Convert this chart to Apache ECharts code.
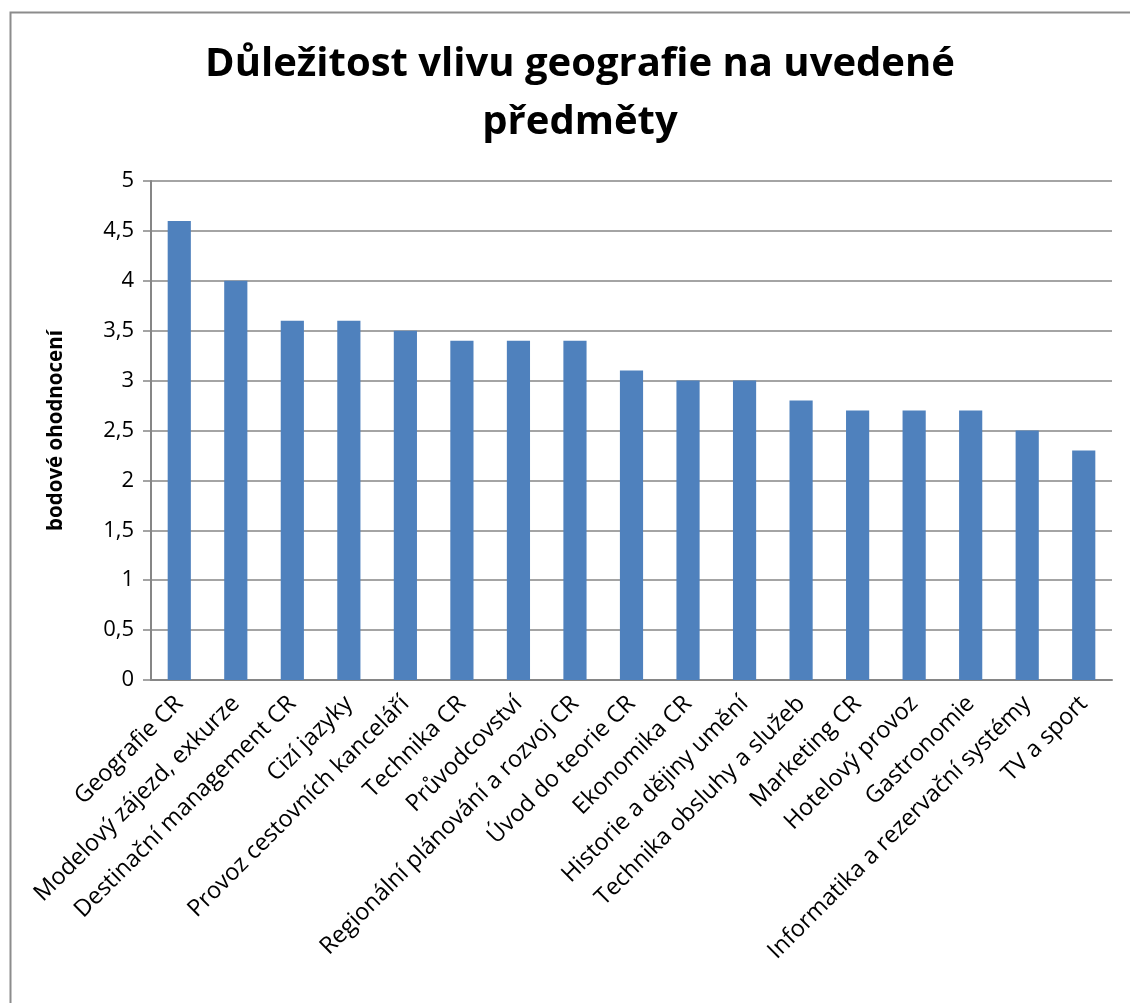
<!DOCTYPE html>
<html>
<head>
<meta charset="utf-8">
<script src="https://cdn.jsdelivr.net/npm/echarts@6/dist/echarts.min.js"></script>
<style>
    html, body { margin: 0; padding: 0; background: #fff; }
    #chart { width: 1130px; height: 1003px; }
</style>
</head>
<body>
<div id="chart"></div>
<script>
    // kategorie (předměty)
    const subjects = [
        'Geografie CR', 'Modelový zájezd, exkurze', 'Destinační management CR', 'Cizí jazyky',
        'Provoz cestovních kanceláří', 'Technika CR', 'Průvodcovství', 'Regionální plánování a rozvoj CR',
        'Úvod do teorie CR', 'Ekonomika CR', 'Historie a dějiny umění', 'Technika obsluhy a služeb',
        'Marketing CR', 'Hotelový provoz', 'Gastronomie', 'Informatika a rezervační systémy', 'TV a sport'
    ];
    // bodové ohodnocení
    const scores = [4.6, 4.0, 3.6, 3.6, 3.5, 3.4, 3.4, 3.4, 3.1, 3.0, 3.0, 2.8, 2.7, 2.7, 2.7, 2.5, 2.3];
    const yTicks = { min: 0, max: 5, interval: 0.5 };

    const chart = echarts.init(document.getElementById('chart'));
    const font = '"Open Sans", "Noto Sans", sans-serif';
    chart.setOption({
        animation: false,
        textStyle: { fontFamily: font },
        graphic: [{
            type: 'rect',
            left: 8, top: 10,
            shape: { width: 1200, height: 1100 },
            style: { fill: null, stroke: '#8c8c8c', lineWidth: 2 },
            z: -1
        }],
        title: {
            text: 'Důležitost vlivu geografie na uvedené\npředměty',
            left: 575,
            textAlign: 'center',
            top: 31,
            textStyle: { fontFamily: font, fontWeight: 'bold', fontSize: 40, lineHeight: 58, color: '#000' }
        },
        grid: { left: 151, top: 181, right: 18, bottom: 323 },
        xAxis: {
            type: 'category',
            data: subjects,
            axisTick: { show: false },
            axisLine: { lineStyle: { color: '#868686', width: 2 } },
            axisLabel: { rotate: 45, interval: 0, margin: 20, fontSize: 23.5, color: '#000', fontFamily: font }
        },
        yAxis: {
            type: 'value',
            min: yTicks.min, max: yTicks.max, interval: yTicks.interval,
            name: 'bodové ohodnocení',
            nameLocation: 'middle',
            nameGap: 84,
            nameTextStyle: { fontWeight: 'bold', fontSize: 20.5, color: '#000', fontFamily: font, padding: [0, 0, 0, 0] },
            axisLine: { show: true, lineStyle: { color: '#868686', width: 2 } },
            axisTick: { show: true, length: 8, lineStyle: { color: '#868686', width: 1.5 } },
            splitLine: { lineStyle: { color: '#868686', width: 1.5 } },
            axisLabel: {
                margin: 17, fontSize: 22, color: '#000', fontFamily: font,
                formatter: v => String(v).replace('.', ',')
            }
        },
        series: [{
            type: 'bar',
            data: scores,
            barWidth: '41%',
            itemStyle: { color: '#4F81BD' }
        }]
    });
</script>
</body>
</html>
